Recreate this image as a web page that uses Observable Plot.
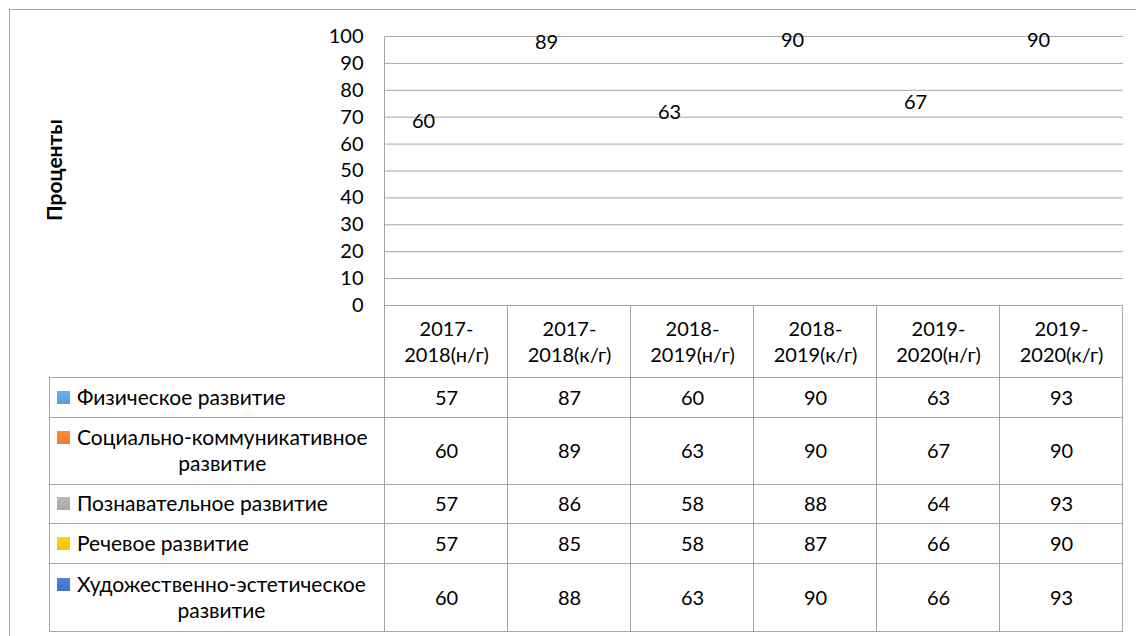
<!DOCTYPE html>
<html>
<head>
<meta charset="utf-8">
<script src="https://cdn.jsdelivr.net/npm/d3@7"></script>
<script src="https://cdn.jsdelivr.net/npm/@observablehq/plot@0.6"></script>
<style>
  html, body { margin: 0; padding: 0; background: #fff; }
  #wrap { position: relative; width: 1136px; height: 636px; overflow: hidden;
          font-family: Lato, "Open Sans", "DejaVu Sans", sans-serif; color: #000; }
  #wrap svg { position: absolute; left: 0; top: 0; }
  .ln { position: absolute; background: #a6a6a6; }
  .cell { position: absolute; display: flex; align-items: center; justify-content: center; box-sizing: border-box;
          padding-bottom: 3px; font-size: 20px; line-height: 26px; text-align: center; white-space: pre-line; }
  .legcell { position: absolute; display: flex; align-items: center; font-size: 21px; line-height: 26px; padding-bottom: 3px; }
  .leg { display: flex; align-items: flex-start; width: 100%; }
  .sw { width: 13px; height: 13px; margin-top: 7px; margin-right: 7px; flex: none; }
  .legtxt { flex: none; text-align: left; }
  .legtxt.wrapped { width: min-content; text-align: center; }
  .nw { white-space: nowrap; }
  #ytitle { position: absolute; left: 53px; top: 170px; transform: translate(-50%, -50%) rotate(-90deg);
            font-weight: bold; font-size: 21px; white-space: nowrap; }
</style>
</head>
<body>
<div id="wrap"></div>
<script>
// ---- Data ----
const periods = ["2017-2018(н/г)", "2017-2018(к/г)", "2018-2019(н/г)", "2018-2019(к/г)", "2019-2020(н/г)", "2019-2020(к/г)"];
const seriesNames = ["Физическое развитие", "Социально-коммуникативное развитие", "Познавательное развитие", "Речевое развитие", "Художественно-эстетическое развитие"];
const seriesColors = ["#5B9BD5", "#ED7D31", "#A5A5A5", "#FFC000", "#4472C4"];
const physical  = [57, 87, 60, 90, 63, 93];
const social    = [60, 89, 63, 90, 67, 90];
const cognitive = [57, 86, 58, 88, 64, 93];
const speech    = [57, 85, 58, 87, 66, 90];
const artistic  = [60, 88, 63, 90, 66, 93];
const yTicks = [0, 10, 20, 30, 40, 50, 60, 70, 80, 90, 100];
const yTitle = "Проценты";
const labeledSeries = seriesNames[1];

const seriesValues = [physical, social, cognitive, speech, artistic];
const table = seriesNames.flatMap((s, i) => periods.map((p, j) => ({series: s, period: p, value: seriesValues[i][j]})));

// ---- Chart ----
const wrap = document.getElementById("wrap");
const FONT = 'Lato, "Open Sans", "DejaVu Sans", sans-serif';
const GRID = "#a6a6a6";

const plot = Plot.plot({
  width: 1136,
  height: 306,
  marginLeft: 382,
  marginRight: 10.5,
  marginTop: 36,
  marginBottom: 1,
  fx: {domain: periods, padding: 0, axis: null, label: null},
  x: {domain: seriesNames, paddingInner: 0, paddingOuter: 0.75, axis: null},
  y: {domain: [0, 100], axis: null},
  style: {fontFamily: FONT, fontSize: "20px", color: "#000", background: "transparent", overflow: "visible"},
  marks: [
    Plot.ruleY(yTicks, {stroke: GRID, strokeWidth: 1}),
    Plot.axisY(yTicks, {tickSize: 0, tickPadding: 22, label: null, fontSize: 20, fill: "#000"}),
    Plot.text(table.filter(d => d.series === labeledSeries), {
      fx: "period", x: "series", y: "value", text: d => String(d.value),
      dy: -23, fontSize: 20, fill: "#000"
    })
  ]
});
wrap.appendChild(plot);

// ---- Chart frame and y title ----
function line(x, y, w, h) {
  const d = document.createElement("div");
  d.className = "ln";
  d.style.left = x + "px"; d.style.top = y + "px";
  d.style.width = w + "px"; d.style.height = h + "px";
  wrap.appendChild(d);
}
line(9, 9, 1127, 1);   // chart area top border
line(9, 9, 1, 627);    // chart area left border

const yt = document.createElement("div");
yt.id = "ytitle";
yt.textContent = yTitle;
wrap.appendChild(yt);

// ---- Data table below the plot ----
const fx = plot.scale("fx");
const colLeft = periods.map(p => fx.apply(p));
const bw = fx.bandwidth;
const tableLeft = 49;
const plotLeft = colLeft[0];
const tableRight = colLeft[colLeft.length - 1] + bw;
const rowEdges = [305, 377, 417, 484, 523, 563, 631];

// plot-area left edge, continuing down through the table
line(Math.floor(plotLeft) - 1, 36, 1, rowEdges[rowEdges.length - 1] - 36 + 1);
// horizontal table lines
for (let r = 1; r < rowEdges.length; r++) line(tableLeft, rowEdges[r], Math.round(tableRight - tableLeft), 1);
// vertical table lines
line(tableLeft, rowEdges[1], 1, rowEdges[rowEdges.length - 1] - rowEdges[1] + 1);
colLeft.forEach((x, j) => { if (j > 0) line(Math.round(x) - 1, rowEdges[0], 1, rowEdges[rowEdges.length - 1] - rowEdges[0] + 1); });
line(Math.round(tableRight) - 1, rowEdges[0], 1, rowEdges[rowEdges.length - 1] - rowEdges[0] + 1);

function cell(x, y, w, h, text, cls) {
  const d = document.createElement("div");
  d.className = cls || "cell";
  d.style.left = x + "px"; d.style.top = y + "px";
  d.style.width = w + "px"; d.style.height = h + "px";
  if (text != null) d.textContent = text;
  wrap.appendChild(d);
  return d;
}

// header row: periods, wrapped after the hyphen
periods.forEach((p, j) => {
  cell(colLeft[j], rowEdges[0] + 1, bw, rowEdges[1] - rowEdges[0], p.replace("-", "-\n"));
});

// legend + value rows
seriesNames.forEach((s, i) => {
  const top = rowEdges[i + 1] + 1, h = rowEdges[i + 2] - rowEdges[i + 1];
  const lc = cell(tableLeft + 1, top, plotLeft - tableLeft - 2, h, null, "legcell");
  lc.style.paddingLeft = "7px"; lc.style.paddingRight = "2px"; lc.style.boxSizing = "border-box";
  const leg = document.createElement("div"); leg.className = "leg";
  const sw = document.createElement("div"); sw.className = "sw";
  sw.style.background = `linear-gradient(to bottom, ${d3.color(seriesColors[i]).brighter(0.35)}, ${seriesColors[i]})`;
  const tx = document.createElement("div");
  tx.className = "legtxt" + (s.length > 26 ? " wrapped" : "");
  s.split(" ").forEach((w, k) => {
    if (k > 0) tx.appendChild(document.createTextNode(" "));
    const sp = document.createElement("span"); sp.className = "nw"; sp.textContent = w;
    tx.appendChild(sp);
  });
  leg.appendChild(sw); leg.appendChild(tx); lc.appendChild(leg);
  periods.forEach((p, j) => cell(colLeft[j], top, bw, h, String(seriesValues[i][j])));
});
</script>
</body>
</html>
